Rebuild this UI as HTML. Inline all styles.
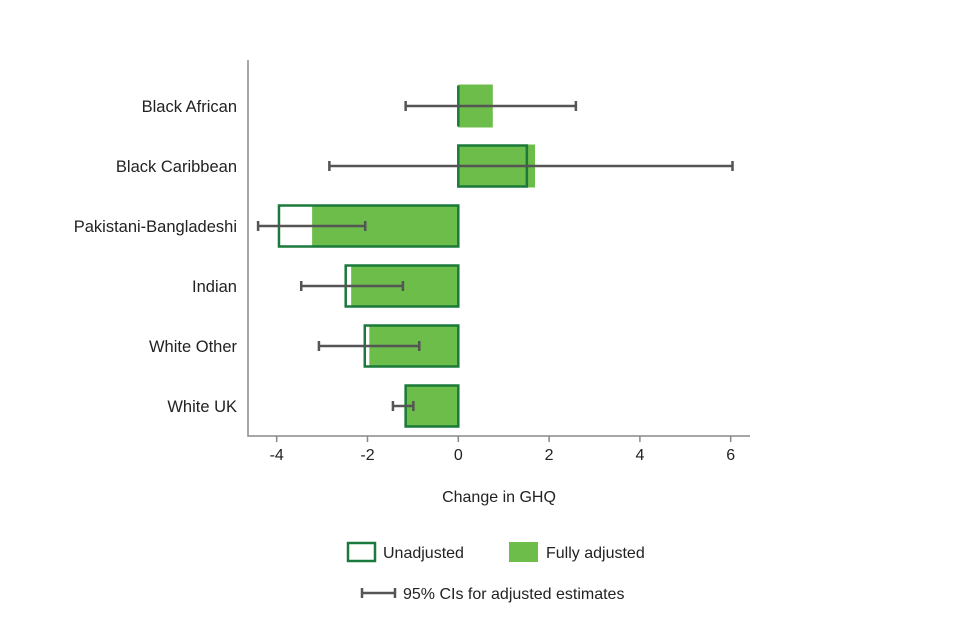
<!DOCTYPE html>
<html><head><meta charset="utf-8"><style>
body{margin:0;background:#fff;}
svg{display:block;font-family:"Liberation Sans","DejaVu Sans",sans-serif;}
</style></head><body>
<svg id="chart" width="960" height="640"></svg>
<script>
const categories=["Black African","Black Caribbean","Pakistani-Bangladeshi","Indian","White Other","White UK"];
const unadjusted=[0,1.51,-3.95,-2.48,-2.06,-1.16];
const adjusted=[0.76,1.69,-3.22,-2.36,-1.96,-1.16];
const ciLow=[-1.16,-2.84,-4.41,-3.46,-3.07,-1.44];
const ciHigh=[2.59,6.04,-2.05,-1.22,-0.86,-0.99];
const ticks=[-4,-2,0,2,4,6];

const NS="http://www.w3.org/2000/svg";
const svg=document.getElementById('chart');
const x=v=>458.3+v*45.4;
const rowY=i=>106+i*60;
const BH=43;
function mk(tag,attrs,parent){const e=document.createElementNS(NS,tag);for(const k in attrs)e.setAttribute(k,attrs[k]);(parent||svg).appendChild(e);return e;}
const fillC="#6dbd4b",strokeC="#1b7a3b",ciC="#555";

categories.forEach((c,i)=>{
  const y=rowY(i);
  const g=mk('g',{});
  
  
  const a0=Math.min(x(0),x(adjusted[i])),aw=Math.abs(x(adjusted[i])-x(0));
  const ab=mk('rect',{x:a0,y:y-BH/2,width:aw,height:BH,fill:fillC},g);
  
  
  const ux=x(unadjusted[i]),zx=x(0),t0=y-BH/2+1,b0=y+BH/2-1;
  const ub=mk('path',{d:`M${zx},${t0}H${ux}V${b0}H${zx}Z`,fill:'none',stroke:strokeC,'stroke-width':2.5,'stroke-linejoin':'miter'},g);
  
  
  const eb=mk('path',{d:`M${x(ciLow[i])},${y}H${x(ciHigh[i])}M${x(ciLow[i])},${y-5}v10M${x(ciHigh[i])},${y-5}v10`,stroke:ciC,'stroke-width':2.5,fill:'none'},g);
  
  
  const t=mk('text',{x:237,y:y+6,'text-anchor':'end','font-size':16.5,fill:'#222'},g);
  t.textContent=c;
  
  
});
const ax=mk('path',{d:'M248,60V436H750',stroke:'#888','stroke-width':1.5,fill:'none'});


ticks.forEach(v=>{
  const tk=mk('line',{x1:x(v),x2:x(v),y1:436,y2:442,stroke:'#888','stroke-width':1.5});
  
  
  const tl=mk('text',{x:x(v),y:460,'text-anchor':'middle','font-size':16,fill:'#222'});
  tl.textContent=v<0?'-'+Math.abs(v):String(v);
  
  
});
const xt=mk('text',{x:499,y:502,'text-anchor':'middle','font-size':16,fill:'#222'});
xt.textContent='Change in GHQ';



const l1=mk('rect',{x:348,y:543,width:27,height:18,fill:'#fff',stroke:strokeC,'stroke-width':2.5});


const t1=mk('text',{x:383,y:558,'font-size':16,fill:'#222'});t1.textContent='Unadjusted';


const l2=mk('rect',{x:509,y:542,width:29,height:20,fill:fillC});


const t2=mk('text',{x:546,y:558,'font-size':16,fill:'#222'});t2.textContent='Fully adjusted';


const l3=mk('path',{d:'M362,593H395M362,588v10M395,588v10',stroke:ciC,'stroke-width':2.5,fill:'none'});


const t3=mk('text',{x:403,y:599,'font-size':16,fill:'#222'});t3.textContent='95% CIs for adjusted estimates';


</script>
</body></html>
